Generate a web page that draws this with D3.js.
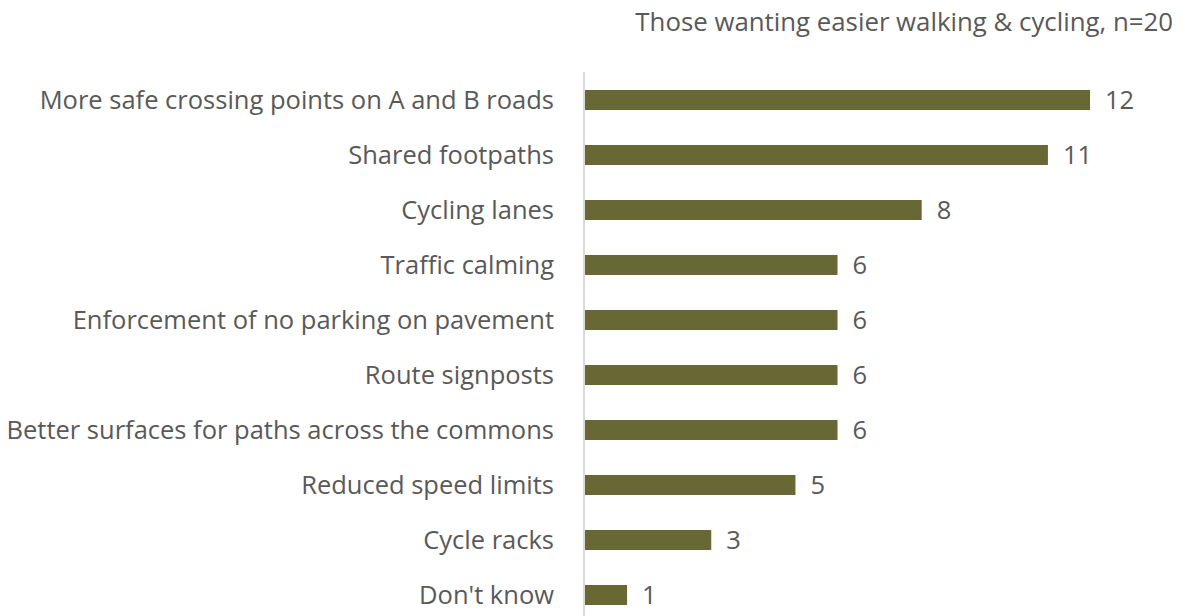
<!DOCTYPE html>
<html>
<head>
<meta charset="utf-8">
<script src="https://cdn.jsdelivr.net/npm/d3@7"></script>
<style>
  body { margin: 0; background: #fff; }
  svg text { font-family: "Open Sans", sans-serif; fill: #595959; }
</style>
</head>
<body>
<svg id="chart" width="1185" height="616"></svg>
<script>
"use strict";

var categories = [
  "More safe crossing points on A and B roads",
  "Shared footpaths",
  "Cycling lanes",
  "Traffic calming",
  "Enforcement of no parking on pavement",
  "Route signposts",
  "Better surfaces for paths across the commons",
  "Reduced speed limits",
  "Cycle racks",
  "Don't know"
];
var counts = [12, 11, 8, 6, 6, 6, 6, 5, 3, 1];
var title = "Those wanting easier walking & cycling, n=20";

var svg = d3.select("#chart");

var x = d3.scaleLinear().domain([0, 12]).range([585, 1090]);
var y = d3.scaleBand().domain(categories).range([72.5, 622.5]).paddingInner(0.636).paddingOuter(0.318);

// axis line
svg.append("line")
    .attr("x1", 584).attr("x2", 584)
    .attr("y1", 72).attr("y2", 616)
    .attr("stroke", "#d9d9d9")
    .attr("stroke-width", 2);

svg.selectAll("rect.bar")
    .data(counts)
  .enter().append("rect")
    .attr("class", "bar")
    .attr("x", x(0))
    .attr("y", function (d, i) { return y(categories[i]); })
    .attr("width", function (d) { return x(d) - x(0); })
    .attr("height", y.bandwidth())
    .attr("fill", "#686834");

svg.selectAll("text.val")
    .data(counts)
  .enter().append("text")
    .attr("class", "val")
    .attr("x", function (d) { return x(d) + 15; })
    .attr("y", function (d, i) { return y(categories[i]) + y.bandwidth() / 2; })
    .attr("dy", "0.36em")
    .style("font-size", "25.5px")
    .text(function (d) { return d; });

svg.selectAll("text.cat")
    .data(categories)
  .enter().append("text")
    .attr("class", "cat")
    .attr("x", 554)
    .attr("y", function (d) { return y(d) + y.bandwidth() / 2; })
    .attr("dy", "0.36em")
    .attr("text-anchor", "end")
    .style("font-size", "25.5px")
    .text(function (d) { return d; });

svg.append("text")
    .attr("x", 1173)
    .attr("y", 31)
    .attr("text-anchor", "end")
    .style("font-size", "25.8px")
    .text(title);
</script>
</body>
</html>
